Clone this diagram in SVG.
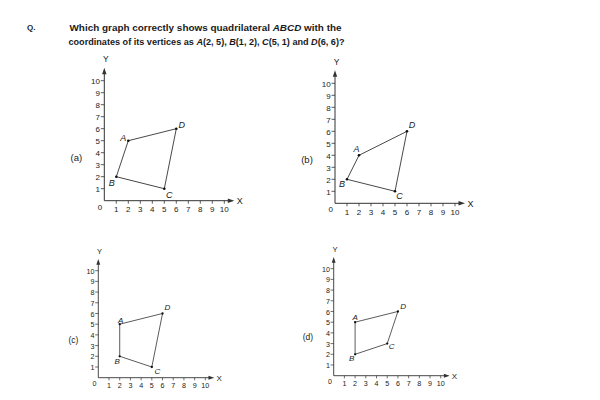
<svg xmlns="http://www.w3.org/2000/svg" xmlns:xlink="http://www.w3.org/1999/xlink" width="600" height="400" viewBox="0 0 600 400">
<style>
.t{font-family:"Liberation Sans",Arial,sans-serif;fill:#1a1a1a}
.q{font-size:9px;font-weight:bold}
.ax{stroke:#333;stroke-width:1;fill:none}
.tk{stroke:#333;stroke-width:0.8}
.num{font-size:8px;text-anchor:middle}
.yn{font-size:8px;text-anchor:end}
.lab{font-size:9px;text-anchor:middle;font-style:italic}
.cap{font-size:9.5px;text-anchor:middle}
.edge{stroke:#333;stroke-width:0.9;fill:none}
.pt{fill:#111}
</style>
<defs>
<g id="axes">
<line class="ax" x1="0" y1="0" x2="0" y2="-128"/>
<polygon points="0,-133 -2.2,-126.5 2.2,-126.5" fill="#333"/>
<line class="ax" x1="0" y1="0" x2="125" y2="0"/>
<polygon points="130,0 123.5,-2.2 123.5,2.2" fill="#333"/>
<g class="tk">
<line x1="-3.5" y1="-12" x2="0" y2="-12"/><line x1="-3.5" y1="-24" x2="0" y2="-24"/><line x1="-3.5" y1="-36" x2="0" y2="-36"/><line x1="-3.5" y1="-48" x2="0" y2="-48"/><line x1="-3.5" y1="-60" x2="0" y2="-60"/><line x1="-3.5" y1="-72" x2="0" y2="-72"/><line x1="-3.5" y1="-84" x2="0" y2="-84"/><line x1="-3.5" y1="-96" x2="0" y2="-96"/><line x1="-3.5" y1="-108" x2="0" y2="-108"/><line x1="-3.5" y1="-120" x2="0" y2="-120"/>
<line x1="12" y1="0" x2="12" y2="3"/><line x1="24" y1="0" x2="24" y2="3"/><line x1="36" y1="0" x2="36" y2="3"/><line x1="48" y1="0" x2="48" y2="3"/><line x1="60" y1="0" x2="60" y2="3"/><line x1="72" y1="0" x2="72" y2="3"/><line x1="84" y1="0" x2="84" y2="3"/><line x1="96" y1="0" x2="96" y2="3"/><line x1="108" y1="0" x2="108" y2="3"/><line x1="120" y1="0" x2="120" y2="3"/>
</g>
<g class="t yn">
<text x="-4.3" y="-8.6">1</text><text x="-4.3" y="-20.6">2</text><text x="-4.3" y="-32.6">3</text><text x="-4.3" y="-44.6">4</text><text x="-4.3" y="-56.6">5</text><text x="-4.3" y="-68.6">6</text><text x="-4.3" y="-80.6">7</text><text x="-4.3" y="-92.6">8</text><text x="-4.3" y="-104.6">9</text><text x="-4.3" y="-116.6">10</text>
</g>
<g class="t num">
<text x="-4.3" y="9">0</text>
<text x="12" y="11.3">1</text><text x="24" y="11.3">2</text><text x="36" y="11.3">3</text><text x="48" y="11.3">4</text><text x="60" y="11.3">5</text><text x="72" y="11.3">6</text><text x="84" y="11.3">7</text><text x="96" y="11.3">8</text><text x="108" y="11.3">9</text><text x="120" y="11.3">10</text>
</g>
<text class="t cap" x="1.5" y="-138.5" style="font-size:8.5px">Y</text>
<text class="t cap" x="135.5" y="3.2" style="font-size:9px">X</text>
</g>
</defs>

<g id="question">
<text class="t q" x="27" y="29.5" style="font-size:8px">Q.</text>
<text class="t q" x="69.5" y="31" textLength="272" lengthAdjust="spacingAndGlyphs">Which graph correctly shows quadrilateral <tspan font-style="italic">ABCD</tspan> with the</text>
<text class="t q" x="68.5" y="45" textLength="276" lengthAdjust="spacingAndGlyphs">coordinates of its vertices as <tspan font-style="italic">A</tspan>(2, 5), <tspan font-style="italic">B</tspan>(1, 2), <tspan font-style="italic">C</tspan>(5, 1) and <tspan font-style="italic">D</tspan>(6, 6)?</text>
</g>

<!-- Graph (a) -->
<g id="graph-a" transform="translate(104.3,200.7)">
<use xlink:href="#axes" href="#axes"/>
<text class="t cap" x="-28" y="-39.5">(a)</text>
<g id="a-connectors">
<polygon class="edge" points="24,-60 12,-24 60,-12 72,-72"/>
</g>
<g id="a-A"><circle class="pt" cx="24" cy="-60" r="1.3"/><text class="t lab" x="19" y="-59.8">A</text></g>
<g id="a-B"><circle class="pt" cx="12" cy="-24" r="1.3"/><text class="t lab" x="7.4" y="-15.2">B</text></g>
<g id="a-C"><circle class="pt" cx="60" cy="-12" r="1.3"/><text class="t lab" x="65" y="-3.2">C</text></g>
<g id="a-D"><circle class="pt" cx="72" cy="-72" r="1.3"/><text class="t lab" x="77.4" y="-72.5">D</text></g>
</g>

<!-- Graph (b) -->
<g id="graph-b" transform="translate(335,203.3)">
<use xlink:href="#axes" href="#axes"/>
<text class="t cap" x="-28" y="-40.5">(b)</text>
<g id="b-connectors">
<polygon class="edge" points="24,-48 12,-24 60,-12 72,-72"/>
</g>
<g id="b-A"><circle class="pt" cx="24" cy="-48" r="1.3"/><text class="t lab" x="21.5" y="-51.4">A</text></g>
<g id="b-B"><circle class="pt" cx="12" cy="-24" r="1.3"/><text class="t lab" x="7" y="-16.8">B</text></g>
<g id="b-C"><circle class="pt" cx="60" cy="-12" r="1.3"/><text class="t lab" x="64.5" y="-4.3">C</text></g>
<g id="b-D"><circle class="pt" cx="72" cy="-72" r="1.3"/><text class="t lab" x="77" y="-75.5">D</text></g>
</g>

<!-- Graph (c) -->
<g id="graph-c" transform="translate(98.3,377.7) scale(0.892)">
<use xlink:href="#axes" href="#axes"/>
<text class="t cap" x="-28" y="-39">(c)</text>
<g id="c-connectors">
<polygon class="edge" points="24,-60 24,-24 60,-12 72,-72"/>
</g>
<g id="c-A"><circle class="pt" cx="24" cy="-60" r="1.3"/><text class="t lab" x="25.1" y="-61.5">A</text></g>
<g id="c-B"><circle class="pt" cx="24" cy="-24" r="1.3"/><text class="t lab" x="21.3" y="-15.9">B</text></g>
<g id="c-C"><circle class="pt" cx="60" cy="-12" r="1.3"/><text class="t lab" x="66.2" y="-4.3">C</text></g>
<g id="c-D"><circle class="pt" cx="72" cy="-72" r="1.3"/><text class="t lab" x="77.6" y="-75.5">D</text></g>
</g>

<!-- Graph (d) -->
<g id="graph-d" transform="translate(333.7,375.7) scale(0.892)">
<use xlink:href="#axes" href="#axes"/>
<text class="t cap" x="-29" y="-39.5">(d)</text>
<g id="d-connectors">
<polygon class="edge" points="24,-60 24,-24 60,-36 72,-72"/>
</g>
<g id="d-A"><circle class="pt" cx="24" cy="-60" r="1.3"/><text class="t lab" x="24" y="-62.4">A</text></g>
<g id="d-B"><circle class="pt" cx="24" cy="-24" r="1.3"/><text class="t lab" x="20.2" y="-16.3">B</text></g>
<g id="d-C"><circle class="pt" cx="60" cy="-36" r="1.3"/><text class="t lab" x="65" y="-29.4">C</text></g>
<g id="d-D"><circle class="pt" cx="72" cy="-72" r="1.3"/><text class="t lab" x="78" y="-75">D</text></g>
</g>
</svg>
